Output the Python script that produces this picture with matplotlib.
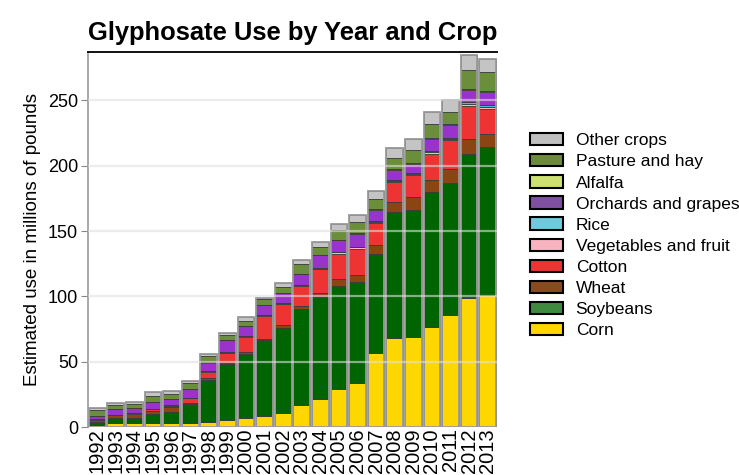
import matplotlib.pyplot as plt
import matplotlib.patches as mpatches
import numpy as np

plt.rcParams['font.family'] = ['Liberation Sans', 'DejaVu Sans']

years = [str(y) for y in range(1992, 2014)]

# millions of pounds per crop, bottom of the stack first
corn = [1.5, 2.8, 2.8, 2.8, 2.8, 2.8, 4.0, 5.4, 7.1, 8.4, 11.0, 17.0,
        21.2, 29.0, 33.4, 56.8, 68.3, 69.0, 76.2, 85.6, 98.4, 101.0]
soybeans = [2.5, 3.8, 3.8, 7.1, 8.9, 14.8, 31.9, 42.8, 48.7, 58.1, 64.5, 73.0,
            78.4, 78.8, 77.6, 76.0, 96.3, 97.4, 103.8, 101.2, 110.6, 113.3]
wheat = [1.3, 2.4, 3.5, 2.6, 3.4, 0.9, 1.6, 1.1, 1.8, 0.8, 2.5, 2.6,
         2.6, 5.2, 5.2, 6.2, 7.6, 9.6, 8.8, 11.0, 11.7, 10.2]
cotton = [0.2, 0.2, 0.2, 1.0, 1.0, 3.4, 4.8, 7.0, 11.4, 17.6, 15.8, 15.3,
          18.4, 19.8, 20.4, 17.2, 15.4, 16.7, 20.4, 21.6, 25.3, 19.1]
vegetables = [0.2, 0.2, 0.2, 0.3, 0.3, 0.3, 0.4, 0.5, 0.5, 0.6, 0.6, 0.6,
              0.7, 0.8, 0.8, 0.9, 1.0, 1.0, 1.5, 1.2, 1.2, 1.5]
rice = [0.1, 0.1, 0.1, 0.1, 0.1, 0.1, 0.3, 0.4, 0.4, 0.5, 0.5, 0.5,
        0.5, 0.6, 0.6, 0.7, 0.8, 0.8, 0.8, 0.9, 1.8, 1.0]
orchards = [2.7, 4.0, 3.7, 5.0, 4.7, 6.5, 6.2, 9.3, 7.3, 7.3, 7.3, 7.8,
            9.7, 8.8, 10.0, 8.2, 7.3, 7.1, 9.2, 9.5, 9.0, 10.3]
alfalfa = [0.3, 0.3, 0.3, 0.3, 0.3, 0.3, 0.3, 0.3, 0.3, 0.4, 0.4, 0.5,
           0.5, 0.5, 0.5, 0.6, 0.6, 0.6, 0.6, 0.6, 0.7, 0.7]
pasture = [4.2, 3.0, 3.0, 4.5, 3.7, 4.8, 5.0, 3.5, 3.8, 3.9, 4.7, 7.6,
           5.9, 7.1, 8.5, 8.2, 8.3, 9.6, 10.7, 9.4, 14.3, 14.5]
other = [1.3, 1.3, 1.8, 3.3, 2.3, 1.5, 1.3, 1.8, 2.6, 1.5, 3.0, 3.0,
         3.8, 5.1, 5.0, 6.2, 7.6, 8.9, 9.0, 9.0, 11.4, 10.3]

crops = ['Corn', 'Soybeans', 'Wheat', 'Cotton', 'Vegetables and fruit', 'Rice',
         'Orchards and grapes', 'Alfalfa', 'Pasture and hay', 'Other crops']
series = [corn, soybeans, wheat, cotton, vegetables, rice, orchards, alfalfa, pasture, other]

# fill colours in the bars, and the slightly different swatches in the key
bar_colors = ['#ffd700', '#006400', '#8b4513', '#ee3333', '#ffb6c1', '#40c0d0',
              '#9933cc', '#ccdd66', '#6b8e3a', '#c4c4c4']
key_colors = ['#ffd700', '#3f8a3f', '#8a4a20', '#ee3333', '#f8b3c1', '#6ccbdc',
              '#7f4fa0', '#cde173', '#6e8b3d', '#c0c0c0']

fig = plt.figure(figsize=(7.39, 4.75), dpi=100)
ax = fig.add_axes([0.119, 0.101, 0.5535, 0.7895])

x = np.arange(len(years))
bottom = np.zeros(len(years))
for vals, col in zip(series, bar_colors):
    ax.bar(x, vals, 0.9, bottom=bottom, color=col, edgecolor='#3a3a3a', linewidth=0.6, zorder=2)
    bottom += np.array(vals)
# soft grey outline round each whole stack
ax.bar(x, bottom, 0.9, facecolor='none', edgecolor='#9a9a9a', linewidth=1.3, zorder=3)

ax.set_xlim(-0.5, len(years) - 0.5)
ax.set_ylim(0, 287)
ax.set_yticks([0, 50, 100, 150, 200, 250])
for y in [50, 100, 150, 200, 250]:
    ax.axhline(y, color='#e0e0e0', linewidth=1.6, alpha=0.6, zorder=4)

ax.set_xticks(x)
ax.set_xticklabels(years, rotation=90, fontsize=14.5)
ax.tick_params(axis='x', length=0, pad=1)
ax.tick_params(axis='y', labelsize=13, length=5, color='#888888', pad=2)

for side in ['right', 'bottom']:
    ax.spines[side].set_visible(False)
ax.spines['left'].set_color('#999999')
ax.spines['left'].set_linewidth(1.2)
ax.spines['top'].set_color('#111111')
ax.spines['top'].set_linewidth(1.4)

ax.set_ylabel('Estimated use in millions of pounds', fontsize=13.5, labelpad=5)
ax.set_title('Glyphosate Use by Year and Crop', fontsize=18.4, fontweight='bold', pad=9)

handles = [mpatches.Patch(facecolor=c, edgecolor='black', linewidth=1.5, label=n)
           for n, c in zip(crops, key_colors)]
fig.legend(handles[::-1], crops[::-1], loc='center left', bbox_to_anchor=(0.705, 0.504),
           frameon=False, fontsize=12.5, handlelength=1.9, handleheight=0.7,
           handletextpad=0.75, labelspacing=0.34, borderpad=0)

fig.savefig('out.png', dpi=100)
